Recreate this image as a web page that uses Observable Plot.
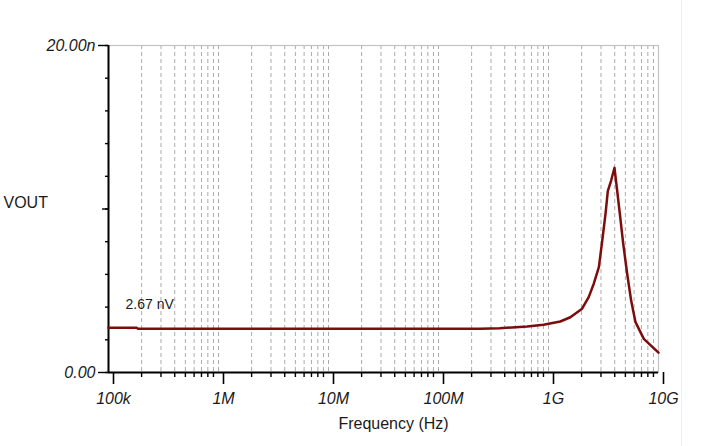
<!DOCTYPE html>
<html><head><meta charset="utf-8">
<script src="https://cdn.jsdelivr.net/npm/d3@7"></script>
<script src="https://cdn.jsdelivr.net/npm/@observablehq/plot@0.6"></script>
<style>
body{margin:0;background:#fff;font-family:Arial,"Liberation Sans",sans-serif}
#wrap{position:relative;width:713px;height:446px;overflow:hidden}
#wrap .edge{position:absolute;left:681px;top:0;width:1px;height:446px;background:#efefef}
svg{display:block}
</style>
</head><body><div id="wrap"><div class="edge"></div></div>
<script>
// Frequency (Hz) and VOUT (nV)
const freq = [1e5, 1.8e5, 1.85e5, 1e6, 1e7, 1e8, 2.4e8, 3.6e8, 6.4e8, 9.0e8, 1.28e9, 1.58e9, 2.02e9, 2.32e9, 2.58e9, 2.87e9, 3.08e9, 3.30e9, 3.46e9, 3.71e9, 3.98e9, 4.21e9, 4.45e9, 4.78e9, 5.19e9, 5.64e9, 6.18e9, 7.35e9, 1e10];
const vout = [2.73, 2.73, 2.67, 2.67, 2.67, 2.67, 2.67, 2.71, 2.81, 2.92, 3.12, 3.38, 3.90, 4.61, 5.43, 6.44, 8.07, 9.72, 11.09, 11.74, 12.52, 11.13, 9.72, 7.87, 6.04, 4.40, 3.08, 2.06, 1.22];

const decadeTicks = [1e5, 1e6, 1e7, 1e8, 1e9, 1e10];
const decadeLabels = ["100k", "1M", "10M", "100M", "1G", "10G"];
const yMinorTicks = [0, 2, 4, 6, 8, 10, 12, 14, 16, 18, 20];
const yMidTicks = [10];
const yLabelTicks = [0, 20];
const yLabels = ["0.00", "20.00n"];
const yTitle = ["VOUT"];
const xTitle = ["Frequency (Hz)"];
const annoText = ["2.67 nV"];
const annoFreq = [1.43e5];
const annoValue = [3.91];

const data = freq.map((f, i) => ({f, v: vout[i]}));
const minorTicks = [];
for (let d = 0; d < decadeTicks.length - 1; d++)
  for (let k = 2; k <= 9; k++) minorTicks.push(decadeTicks[d] * k);
const gridTicks = minorTicks.concat(decadeTicks.slice(1, -1));
const anno = annoText.map((t, i) => ({t, f: annoFreq[i], v: annoValue[i]}));

const ink = "#1a1a1a";
const chart = Plot.plot({
  width: 713, height: 446,
  marginLeft: 108, marginRight: 55, marginTop: 45, marginBottom: 74,
  style: {fontFamily: "Arial, 'Liberation Sans', sans-serif", background: "#fff", overflow: "visible", color: ink},
  x: {type: "log", domain: [1e5, 1e10]},
  y: {domain: [0, 20]},
  marks: [
    Plot.gridX(gridTicks, {stroke: "#ababab", strokeOpacity: 1, strokeWidth: 1, strokeDasharray: "4,3"}),
    Plot.frame({stroke: "#c2c2c2", strokeWidth: 1.2}),
    Plot.axisX(minorTicks, {tickSize: 5, tickFormat: () => "", stroke: "#000", strokeWidth: 1.4, label: null}),
    Plot.axisX(decadeTicks, {tickSize: 12, tickPadding: 8, stroke: "#000", strokeWidth: 1.6,
      tickFormat: (d, i) => decadeLabels[decadeTicks.indexOf(d)], fontSize: 16, fontStyle: "italic", fill: ink, label: null, dx: 5}),
    Plot.axisY(yMinorTicks, {tickSize: 3, tickFormat: () => "", stroke: "#000", strokeWidth: 1.4, label: null}),
    Plot.axisY(yMidTicks, {tickSize: 6, tickFormat: () => "", stroke: "#000", strokeWidth: 1.4, label: null}),
    Plot.axisY(yLabelTicks, {tickSize: 10, tickPadding: 3, stroke: "#000", strokeWidth: 1.4,
      tickFormat: d => yLabels[yLabelTicks.indexOf(d)], fontSize: 16, fontStyle: "italic", fill: ink, label: null}),
    Plot.ruleX([1e5], {stroke: "#000", strokeWidth: 2}),
    Plot.ruleY([0], {stroke: "#000", strokeWidth: 2}),
    Plot.line(data, {x: "f", y: "v", stroke: "#7d0c0c", strokeWidth: 2.5}),
    Plot.text(anno, {x: "f", y: "v", text: "t", textAnchor: "start", lineAnchor: "bottom", fontSize: 14, fill: ink}),
    Plot.text(yTitle, {frameAnchor: "left", dx: -105, dy: -6, textAnchor: "start", fontSize: 16, fill: ink}),
    Plot.text(xTitle, {frameAnchor: "bottom", dx: 10, dy: 56, fontSize: 16, fill: ink})
  ]
});
document.getElementById("wrap").appendChild(chart);
</script>
</body></html>
